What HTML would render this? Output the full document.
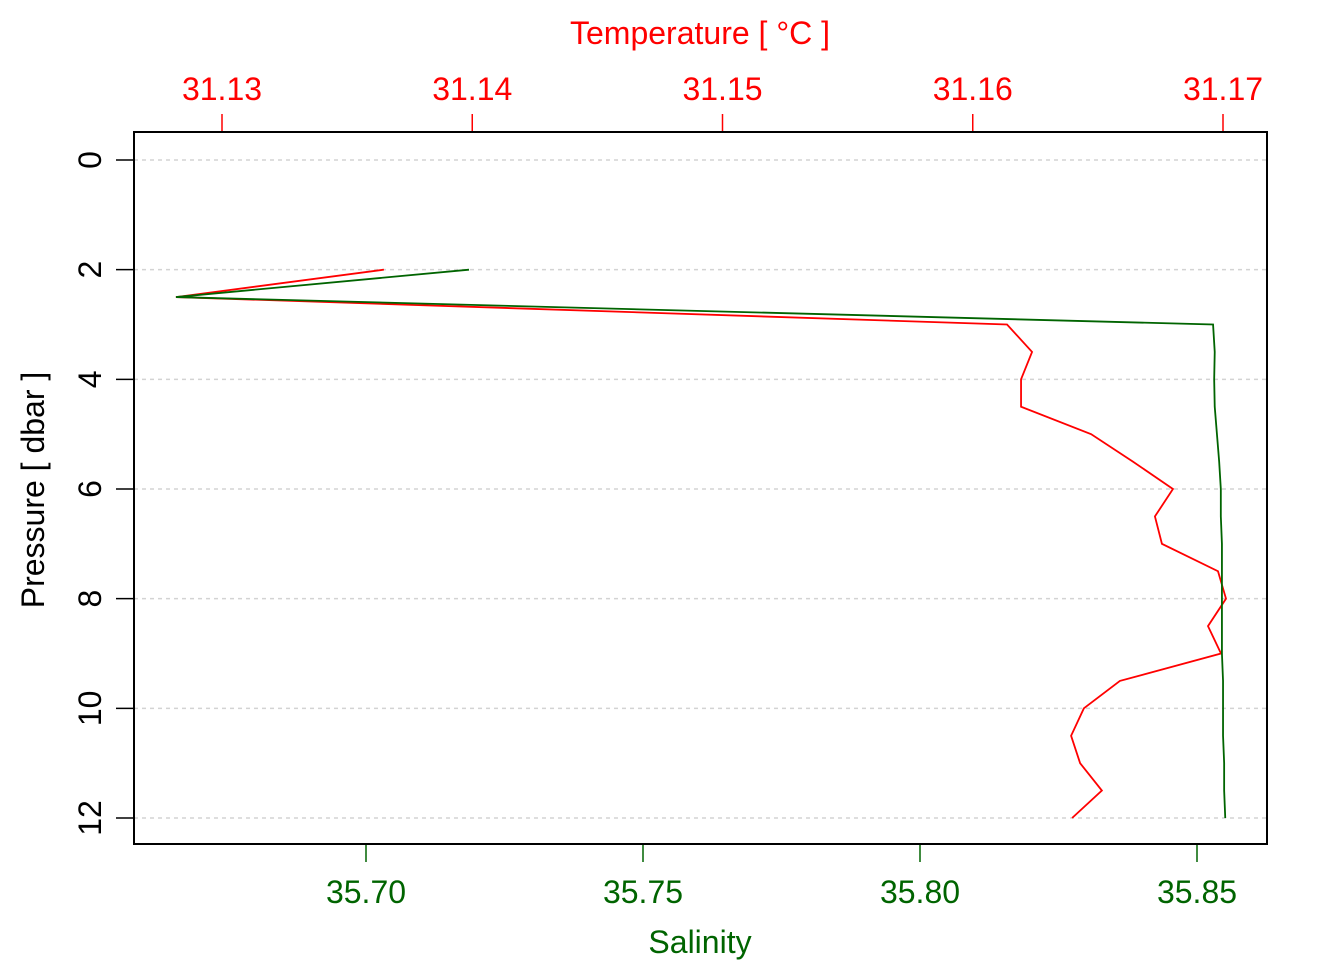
<!DOCTYPE html>
<html><head><meta charset="utf-8"><style>
html,body{margin:0;padding:0;background:#fff;}
svg text{font-family:"Liberation Sans",Arial,sans-serif;}
</style></head><body>
<svg id="chart" width="1344" height="960" xmlns="http://www.w3.org/2000/svg">
<rect x="0" y="0" width="1344" height="960" fill="#fff"/>
<g id="grid"></g>
<g id="series"></g>
<g id="axes"></g>
<rect x="134" y="132" width="1133" height="712" fill="none" stroke="#000" stroke-width="2"/>
<text x="700" y="44" fill="#ff0000" font-size="32" text-anchor="middle">Temperature [ °C ]</text>
<text x="700" y="953" fill="#006400" font-size="32" text-anchor="middle">Salinity</text>
<text transform="translate(44,490) rotate(-90)" fill="#000" font-size="32" text-anchor="middle">Pressure [ dbar ]</text>
</svg>
<script>
const pressure=[2,2.5,3,3.5,4,4.5,5,5.5,6,6.5,7,7.5,8,8.5,9,9.5,10,10.5,11,11.5,12];
const temperature=[31.13647,31.12816,31.16137,31.16237,31.16193,31.16193,31.16473,31.1664,31.168,31.16728,31.16756,31.1698,31.17012,31.1694,31.16992,31.16588,31.16444,31.16393,31.16429,31.16516,31.16397];
const salinity=[35.71859,35.6657,35.8529,35.8532,35.8531,35.8532,35.8536,35.854,35.8543,35.8543,35.8545,35.8545,35.8545,35.8545,35.8545,35.8547,35.8547,35.8547,35.8549,35.8549,35.8551];
const pTicks=[0,2,4,6,8,10,12];
const tTicks=[31.13,31.14,31.15,31.16,31.17];
const sTicks=[35.70,35.75,35.80,35.85];
const NS="http://www.w3.org/2000/svg";
const yP=p=>160+p*(818-160)/12;
const xT=t=>222+(t-31.13)*(1001/0.04);
const xS=s=>366+(s-35.70)*(831/0.15);
function mk(tag,attrs,parent,txt){const e=document.createElementNS(NS,tag);for(const k in attrs)e.setAttribute(k,attrs[k]);if(txt!==undefined)e.textContent=txt;document.getElementById(parent).appendChild(e);return e;}
pTicks.forEach(p=>{
 const g=mk('line',{x1:134,x2:1267,y1:yP(p),y2:yP(p),stroke:'#d3d3d3','stroke-width':1.5,'stroke-dasharray':'4,4'},'grid');
 
 
 const t=mk('line',{x1:116,x2:134,y1:yP(p),y2:yP(p),stroke:'#000','stroke-width':1.5},'axes');
 
 
 const l=mk('text',{transform:`translate(101,${yP(p)}) rotate(-90)`,'font-size':32,'text-anchor':'middle',fill:'#000'},'axes',String(p));
 
 
});
tTicks.forEach(v=>{
 const t=mk('line',{x1:xT(v),x2:xT(v),y1:114,y2:132,stroke:'#ff0000','stroke-width':1.5},'axes');
 
 
 const l=mk('text',{x:xT(v),y:100,'font-size':32,'text-anchor':'middle',fill:'#ff0000'},'axes',v.toFixed(2));
 
 
});
sTicks.forEach(v=>{
 const t=mk('line',{x1:xS(v),x2:xS(v),y1:844,y2:862,stroke:'#006400','stroke-width':1.5},'axes');
 
 
 const l=mk('text',{x:xS(v),y:903,'font-size':32,'text-anchor':'middle',fill:'#006400'},'axes',v.toFixed(2));
 
 
});
const tl=mk('polyline',{points:pressure.map((p,i)=>xT(temperature[i])+','+yP(p)).join(' '),fill:'none',stroke:'#ff0000','stroke-width':1.8},'series');


const sl=mk('polyline',{points:pressure.map((p,i)=>xS(salinity[i])+','+yP(p)).join(' '),fill:'none',stroke:'#006400','stroke-width':1.8},'series');


</script>
</body></html>
